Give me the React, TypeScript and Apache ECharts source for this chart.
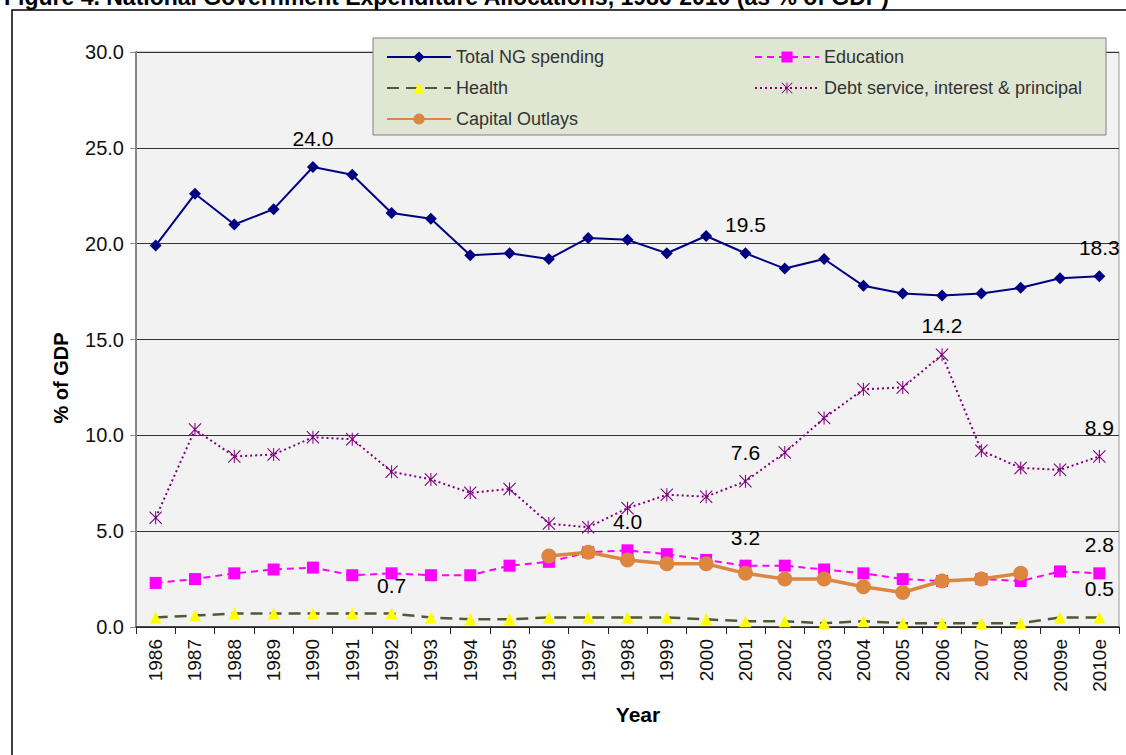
import React, { useEffect, useRef } from "react";
import * as echarts from "echarts";

const years = ["1986","1987","1988","1989","1990","1991","1992","1993","1994","1995","1996","1997","1998","1999","2000","2001","2002","2003","2004","2005","2006","2007","2008","2009e","2010e"];
const totalNG = [19.9,22.6,21.0,21.8,24.0,23.6,21.6,21.3,19.4,19.5,19.2,20.3,20.2,19.5,20.4,19.5,18.7,19.2,17.8,17.4,17.3,17.4,17.7,18.2,18.3];
const education = [2.3,2.5,2.8,3.0,3.1,2.7,2.8,2.7,2.7,3.2,3.4,3.9,4.0,3.8,3.5,3.2,3.2,3.0,2.8,2.5,2.4,2.5,2.4,2.9,2.8];
const health = [0.5,0.6,0.7,0.7,0.7,0.7,0.7,0.5,0.4,0.4,0.5,0.5,0.5,0.5,0.4,0.3,0.3,0.2,0.3,0.2,0.2,0.2,0.2,0.5,0.5];
const debtService = [5.7,10.3,8.9,9.0,9.9,9.8,8.1,7.7,7.0,7.2,5.4,5.2,6.2,6.9,6.8,7.6,9.1,10.9,12.4,12.5,14.2,9.2,8.3,8.2,8.9];
const capitalOutlays = [null,null,null,null,null,null,null,null,null,null,3.7,3.9,3.5,3.3,3.3,2.8,2.5,2.5,2.1,1.8,2.4,2.5,2.8,null,null];

const totalLabelAt = ["1990","2001","2010e"];
const educationLabelAt = ["1998","2001","2010e"];
const healthLabelAt = ["1992","2010e"];
const debtLabelAt = ["2001","2006","2010e"];

const seriesNames = ["Total NG spending","Education","Health","Debt service, interest & principal","Capital Outlays"];

const FONT = "'Liberation Sans', Arial, sans-serif";
const ASTERISK = "path://M9.2,0 L10.8,0 L10.8,20 L9.2,20 Z M0,1.2 L1.2,0 L20,18.8 L18.8,20 Z M18.8,0 L20,1.2 L1.2,20 L0,18.8 Z";

function withLabels(values: (number | null)[], at: string[]) {
  return values.map((v, i) => (v !== null && at.includes(years[i]) ? { value: v, label: { show: true } } : v));
}

const labelBase = (distance: number) => ({
  show: false,
  position: "top",
  distance,
  fontSize: 21,
  color: "#000",
  fontFamily: FONT,
  formatter: (p: any) => Number(p.value).toFixed(1),
});

export default function App() {
  const ref = useRef<HTMLDivElement>(null);
  useEffect(() => {
    if (!ref.current) return;
    const chart = echarts.init(ref.current, null, { renderer: "svg" });
    chart.setOption({
      animation: false,
      textStyle: { fontFamily: FONT },
      grid: { left: 136, right: 7, top: 52, bottom: 128, show: true, backgroundColor: "#f2f2f2", borderColor: "#999", borderWidth: 1 },
      xAxis: {
        type: "category",
        data: years,
        boundaryGap: true,
        axisLine: { lineStyle: { color: "#222", width: 1.5 } },
        axisTick: { show: true, length: 7, interval: 0, lineStyle: { color: "#222" } },
        axisLabel: { rotate: 90, interval: 0, fontSize: 19, color: "#111", margin: 12, fontFamily: FONT },
      },
      yAxis: {
        type: "value",
        min: 0,
        max: 30,
        interval: 5,
        axisLine: { show: true, lineStyle: { color: "#888", width: 2 } },
        axisTick: { show: true, length: 6, lineStyle: { color: "#888" } },
        axisLabel: { formatter: (v: number) => v.toFixed(1), fontSize: 20, color: "#111", margin: 12, fontFamily: FONT },
        splitLine: { lineStyle: { color: "#333", width: 1 } },
      },
      legend: [
        {
          data: [seriesNames[0], seriesNames[2], seriesNames[4]],
          orient: "vertical",
          left: 386,
          top: 47,
          padding: 0,
          itemWidth: 64,
          itemHeight: 14,
          itemGap: 11,
          z: 20,
          textStyle: { fontSize: 18, lineHeight: 20, color: "#333", fontFamily: FONT },
        },
        {
          data: [seriesNames[1], seriesNames[3]],
          orient: "vertical",
          left: 754,
          top: 47,
          padding: 0,
          itemWidth: 64,
          itemHeight: 14,
          itemGap: 11,
          z: 20,
          textStyle: { fontSize: 18, lineHeight: 20, color: "#333", fontFamily: FONT },
        },
      ],
      graphic: [
        { type: "rect", shape: { x: 12, y: 10, width: 1300, height: 900 }, style: { fill: "none", stroke: "#000", lineWidth: 1.5 }, z: 0, silent: true },
        {
          type: "text",
          x: 4,
          y: -3,
          style: { text: "Figure 4. National Government Expenditure Allocations, 1986-2010 (as % of GDP)", font: `bold 23px ${FONT}`, fill: "#000", verticalAlign: "middle", align: "left" },
          z: 1,
        },
        { type: "rect", shape: { x: 373, y: 38, width: 733, height: 97 }, style: { fill: "#dfe6d1", stroke: "#808080", lineWidth: 1 }, z: 3, silent: true },
        {
          type: "text",
          x: 61,
          y: 378,
          rotation: Math.PI / 2,
          style: { text: "% of GDP", font: `bold 20px ${FONT}`, fill: "#000", align: "center", verticalAlign: "middle" },
          z: 5,
        },
        {
          type: "text",
          x: 638,
          y: 714,
          style: { text: "Year", font: `bold 21px ${FONT}`, fill: "#000", align: "center", verticalAlign: "middle" },
          z: 5,
        },
      ],
      series: [
        {
          name: seriesNames[0],
          type: "line",
          data: withLabels(totalNG, totalLabelAt),
          symbol: "diamond",
          symbolSize: 12,
          itemStyle: { color: "#000080" },
          lineStyle: { color: "#000080", width: 2 },
          label: labelBase(12),
        },
        {
          name: seriesNames[1],
          type: "line",
          data: withLabels(education, educationLabelAt),
          symbol: "rect",
          symbolSize: 12,
          itemStyle: { color: "#ff00ff" },
          lineStyle: { color: "#ff00ff", width: 2, type: [7, 5] },
          label: labelBase(12),
        },
        {
          name: seriesNames[2],
          type: "line",
          data: withLabels(health, healthLabelAt),
          symbol: "triangle",
          symbolSize: 12,
          itemStyle: { color: "#ffff00" },
          lineStyle: { color: "#4f5a35", width: 2.5, type: [12, 7] },
          label: labelBase(12),
        },
        {
          name: seriesNames[3],
          type: "line",
          data: withLabels(debtService, debtLabelAt),
          symbol: ASTERISK,
          symbolSize: 13,
          itemStyle: { color: "#800080" },
          lineStyle: { color: "#800080", width: 2, type: [2, 3] },
          label: labelBase(12),
        },
        {
          name: seriesNames[4],
          type: "line",
          data: capitalOutlays,
          symbol: "circle",
          symbolSize: 15,
          connectNulls: false,
          itemStyle: { color: "#dc8640" },
          lineStyle: { color: "#dc8640", width: 3.5 },
        },
      ],
    });
    return () => chart.dispose();
  }, []);
  return <div ref={ref} style={{ position: "fixed", left: 0, top: 0, width: 1126, height: 755, background: "#fff" }} />;
}
